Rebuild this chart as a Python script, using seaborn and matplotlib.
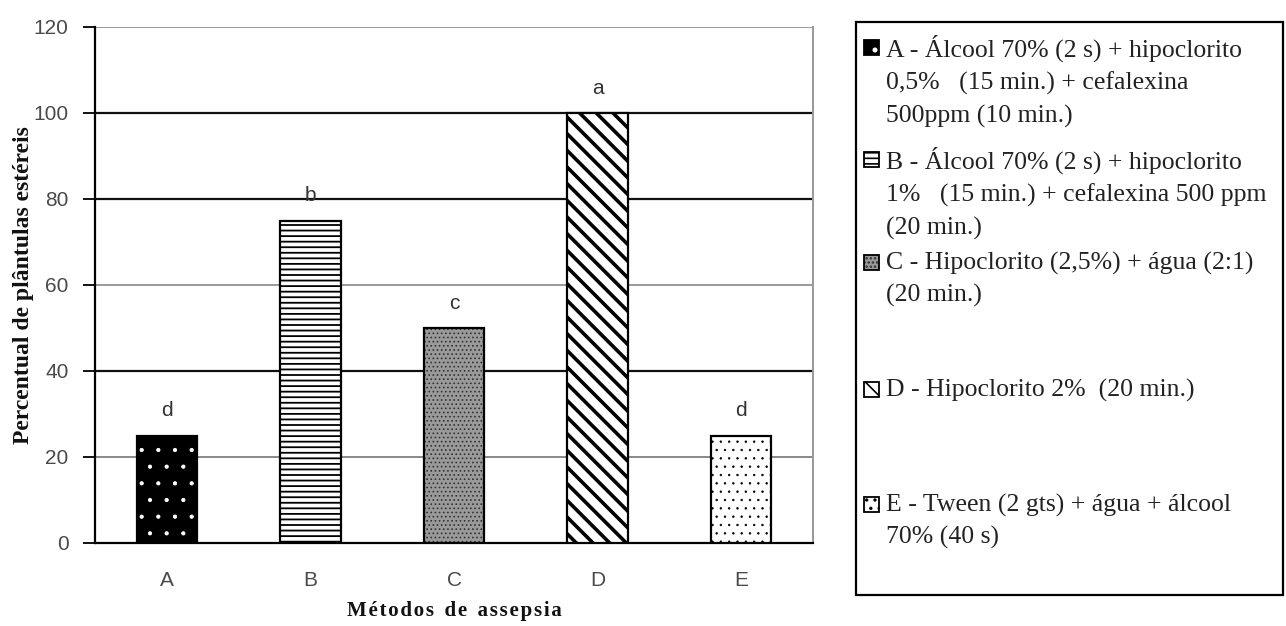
import matplotlib
matplotlib.use("Agg")
import matplotlib.pyplot as plt
from matplotlib.patches import Rectangle
import seaborn as sns
import pandas as pd

# ---- data ----
categories = ["A", "B", "C", "D", "E"]
values = [25, 75, 50, 100, 25]
letters = ["d", "b", "c", "a", "d"]
legend_labels = [
    "A - Álcool 70% (2 s) + hipoclorito\n0,5%   (15 min.) + cefalexina\n500ppm (10 min.)",
    "B - Álcool 70% (2 s) + hipoclorito\n1%   (15 min.) + cefalexina 500 ppm\n(20 min.)",
    "C - Hipoclorito (2,5%) + água (2:1)\n(20 min.)",
    "D - Hipoclorito 2%  (20 min.)",
    "E - Tween (2 gts) + água + álcool\n70% (40 s)",
]
y_ticks = [0, 20, 40, 60, 80, 100, 120]

# ---- styles ----
faces = ["black", "white", "#9a9a9a", "white", "white"]
hatch_cols = ["white", "black", "#333333", "black", "black"]
hatches = [".", "---", "....", "\\\\", ".."]
hatch_lws = [0.6, 1.3, 0.7, 2.6, 0.5]

sns.set_theme(style="white")
plt.rcParams["hatch.linewidth"] = 1.2

W, H = 1286, 626
fig = plt.figure(figsize=(W / 100, H / 100), dpi=100)
ax = fig.add_axes([95 / W, 1 - 543 / H, (813 - 95) / W, (543 - 27) / H])

df = pd.DataFrame({"metodo": categories, "valor": values})
sns.barplot(data=df, x="metodo", y="valor", order=categories, width=0.42,
            ax=ax, zorder=3)

for p, fc, hc, h, hl in zip(ax.patches, faces, hatch_cols, hatches, hatch_lws):
    p.set_facecolor(fc)
    p.set_edgecolor(hc)
    p.set_hatch(h)
    p.set_linewidth(0)
    if hasattr(p, "set_hatch_linewidth"):
        p.set_hatch_linewidth(hl)
    ax.add_patch(Rectangle((p.get_x(), p.get_y()), p.get_width(), p.get_height(),
                           fill=False, ec="black", lw=1.6, zorder=4))

# letters above bars
for i, (v, t) in enumerate(zip(values, letters)):
    ax.annotate(t, (i, v), xytext=(0, 11), textcoords="offset points",
                ha="center", va="bottom", fontsize=15, color="#333333",
                family="Liberation Sans")

ax.set_xlim(-0.5, 4.5)
ax.set_ylim(0, 120)
ax.set_yticks(y_ticks)
ax.set_yticklabels([str(t) for t in y_ticks], fontsize=15, color="#4a4a4a",
                   family="Liberation Sans")
ax.set_xticks(range(len(categories)))
ax.set_xticklabels(categories, fontsize=15, color="#4a4a4a", family="Liberation Sans")
ax.set_xticks([i - 0.5 for i in range(len(categories) + 1)], minor=True)
ax.tick_params(axis="x", which="major", length=0, pad=20)
ax.tick_params(axis="x", which="minor", length=7, width=1.3, color="black", direction="out")
ax.tick_params(axis="y", which="major", length=9, width=1.3, color="black",
               direction="out", pad=10, left=True)

ax.grid(axis="y", zorder=0)
gcolors = {0: "#888888", 20: "#888888", 40: "#111111", 60: "#999999",
           80: "#111111", 100: "#111111", 120: "#999999"}
for gl, t in zip(ax.get_ygridlines(), y_ticks):
    gl.set_color(gcolors[t])
    gl.set_linewidth(1.6 if gcolors[t] == "#111111" else 1.4)
ax.set_axisbelow(True)

for s in ["left", "bottom"]:
    ax.spines[s].set_color("black")
    ax.spines[s].set_linewidth(1.6)
ax.spines["top"].set_visible(False)
ax.spines["right"].set_color("#999999")
ax.spines["right"].set_linewidth(1.4)

ax.set_xlabel("M é t o d o s   d e   a s s e p s i a".replace("   ", "\u2002").replace(" ", "\u200a"),
              fontsize=15, fontweight="bold", family="Liberation Serif", labelpad=8,
              color="#111111")
ax.set_ylabel("Percentual de plântulas estéreis", fontsize=17, fontweight="bold",
              family="Liberation Serif", color="#111111")
ax.yaxis.set_label_coords(-0.085, 0.50)

# ---- legend box (drawn in figure pixels) ----
def fx(px):
    return px / W

def fy(py):
    return 1 - py / H

fig.add_artist(Rectangle((fx(856), fy(595)), fx(1283) - fx(856), fy(22) - fy(595),
                         transform=fig.transFigure, fill=False, ec="black", lw=1.6))

first_line = [48, 160, 263, 390, 505]
pitch = 33
for lab, y0, fc, hc, h in zip(legend_labels, first_line, faces, hatch_cols, hatches):
    n = lab.count("\n") + 1
    yc = y0 + (n - 1) * pitch / 2
    fig.text(fx(886), fy(yc), lab, ha="left", va="center", fontsize=18.5,
             family="Liberation Serif", color="#222222", linespacing=1.55)
    fig.add_artist(Rectangle((fx(864), fy(y0 + 7)), fx(15), 15 / H,
                             transform=fig.transFigure, facecolor=fc, edgecolor=hc,
                             hatch=h, lw=0))
    fig.add_artist(Rectangle((fx(864), fy(y0 + 7)), fx(15), 15 / H,
                             transform=fig.transFigure, fill=False, ec="black", lw=1.3))

fig.savefig("out.png", dpi=100)
